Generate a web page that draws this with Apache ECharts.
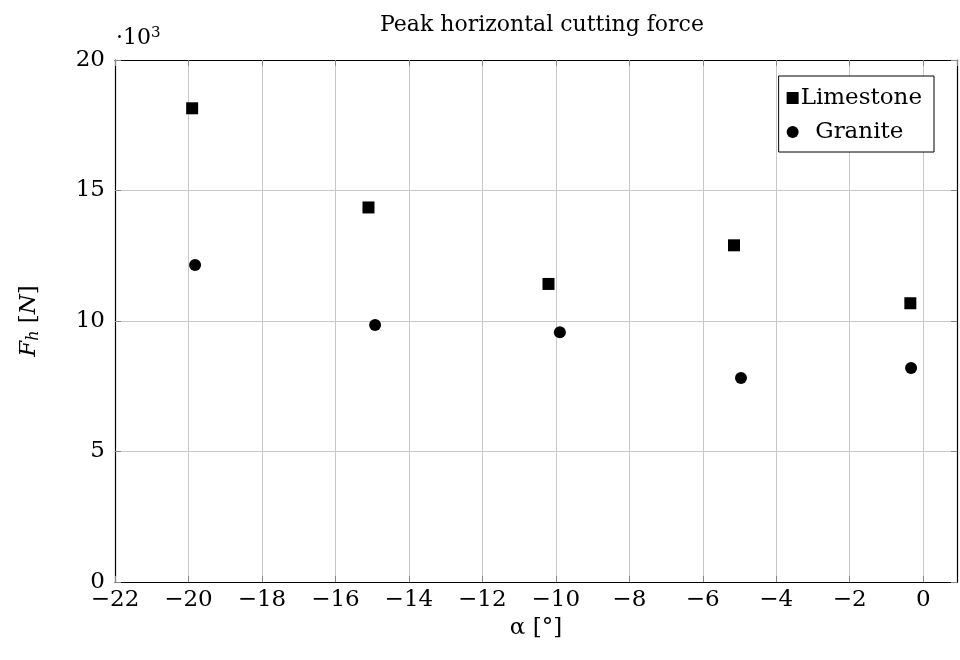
<!DOCTYPE html>
<html>
<head>
<meta charset="utf-8">
<script src="https://cdn.jsdelivr.net/npm/echarts@6/dist/echarts.min.js"></script>
<style>
  html, body { margin: 0; padding: 0; background: #fff; }
  #main { width: 960px; height: 660px; }
</style>
</head>
<body>
<div id="main"></div>
<script>
// values in units of 10^3 N
var limestoneX = [-19.9, -15.1, -10.2, -5.15, -0.35];
var limestoneY = [18.15, 14.35, 11.42, 12.9, 10.68];
var graniteX = [-19.82, -14.92, -9.89, -4.96, -0.33];
var graniteY = [12.15, 9.85, 9.57, 7.82, 8.2];

var xTicks = [-22, -20, -18, -16, -14, -12, -10, -8, -6, -4, -2, 0];
var yTicks = [0, 5, 10, 15, 20];

function pairs(xs, ys) {
    return xs.map(function (x, i) { return [x, ys[i]]; });
}

var font = 'DejaVu Serif';
var myChart = echarts.init(document.getElementById('main'));

var frameAxis = {
    axisLine: { show: true, onZero: false, lineStyle: { color: '#000', width: 1.2 } },
    axisTick: { show: true, inside: true, length: 6, lineStyle: { color: '#888' } },
    axisLabel: { show: false },
    splitLine: { show: false }
};

var option = {
    animation: false,
    title: {
        text: 'Peak horizontal cutting force',
        left: 537, top: 9, textAlign: 'center',
        textStyle: { fontFamily: font, fontWeight: 'normal', fontSize: 22, color: '#000' }
    },
    grid: { left: 115, right: 3, top: 60, bottom: 78 },
    legend: {
        orient: 'vertical',
        right: 26, top: 76,
        padding: [8, 12, 6, 8],
        itemGap: 6,
        itemWidth: 12, itemHeight: 12,
        borderColor: '#000', borderWidth: 1,
        backgroundColor: '#fff',
        textStyle: { fontFamily: font, fontSize: 23, lineHeight: 28, color: '#000', padding: [0, 0, 0, -3] },
        data: [
            { name: 'Limestone', icon: 'rect' },
            { name: 'Granite', icon: 'circle' }
        ],
        formatter: function (n) { return n === 'Granite' ? '  ' + n : n; }
    },
    xAxis: [
        {
            type: 'value', min: -22, max: 0.92, interval: 2, position: 'bottom',
            name: 'α [°]', nameLocation: 'middle', nameGap: 32,
            nameTextStyle: { fontFamily: font, fontSize: 23, color: '#000' },
            axisLine: { show: true, onZero: false, lineStyle: { color: '#000', width: 1.2 } },
            axisTick: { show: true, inside: true, length: 6, lineStyle: { color: '#888' } },
            axisLabel: {
                fontFamily: font, fontSize: 23, color: '#000', margin: 7,
                showMaxLabel: false,
                formatter: function (v) {
                    if (xTicks.indexOf(v) < 0) return '';
                    return v < 0 ? '\u2212' + (-v) : String(v);
                }
            },
            splitLine: { show: true, lineStyle: { color: '#c8c8c8', width: 1 } }
        },
        Object.assign({ type: 'value', min: -22, max: 0.92, interval: 2, position: 'top' }, frameAxis)
    ],
    yAxis: [
        {
            type: 'value', min: 0, max: 20, interval: 5, position: 'left',
            name: '{i|F}{s|h} [{i|N}]', nameLocation: 'middle', nameGap: 73, nameRotate: 90,
            nameTextStyle: {
                fontFamily: font, fontSize: 23, color: '#000',
                rich: {
                    i: { fontFamily: font, fontStyle: 'italic', fontSize: 23, color: '#000' },
                    s: { fontFamily: font, fontStyle: 'italic', fontSize: 16, color: '#000', verticalAlign: 'bottom', padding: [10, 0, 0, 0] }
                }
            },
            axisLine: { show: true, onZero: false, lineStyle: { color: '#000', width: 1.2 } },
            axisTick: { show: true, inside: true, length: 6, lineStyle: { color: '#888' } },
            axisLabel: {
                fontFamily: font, fontSize: 23, color: '#000', margin: 10,
                formatter: function (v) { return yTicks.indexOf(v) < 0 ? '' : String(v); }
            },
            splitLine: { show: true, lineStyle: { color: '#c8c8c8', width: 1 } }
        },
        Object.assign({ type: 'value', min: 0, max: 20, interval: 5, position: 'right' }, frameAxis)
    ],
    graphic: [
        {
            type: 'text', left: 116, top: 26,
            style: {
                text: '·10{sup|3}',
                font: '22px "DejaVu Serif"', fill: '#000',
                rich: { sup: { fontFamily: font, fontSize: 15, verticalAlign: 'top', padding: [0, 0, 10, 0], fill: '#000' } }
            }
        }
    ],
    series: [
        {
            name: 'Limestone', type: 'scatter', symbol: 'rect', symbolSize: 12,
            itemStyle: { color: '#000', opacity: 1 },
            data: pairs(limestoneX, limestoneY)
        },
        {
            name: 'Granite', type: 'scatter', symbol: 'circle', symbolSize: 12,
            itemStyle: { color: '#000', opacity: 1 },
            data: pairs(graniteX, graniteY)
        }
    ]
};

myChart.setOption(option);
</script>
</body>
</html>
